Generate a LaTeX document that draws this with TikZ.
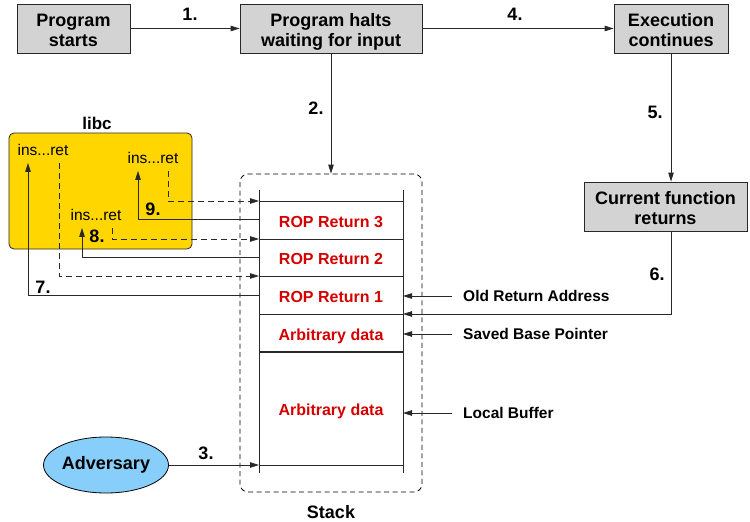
\documentclass[tikz,border=0pt]{standalone}
\usepackage{fontspec}
\setmainfont{Liberation Sans}
\usetikzlibrary{arrows.meta,shapes.geometric}
\definecolor{boxgray}{RGB}{211,211,211}
\definecolor{ropred}{RGB}{212,0,0}
\definecolor{libcgold}{RGB}{255,214,0}
\definecolor{advblue}{RGB}{135,206,250}
\definecolor{linecol}{RGB}{40,40,40}
\newcommand{\twolines}[2]{\raisebox{-8.5pt}[0pt][0pt]{\begin{tabular}{@{}c@{}}#1\\#2\end{tabular}}}
\begin{document}
\begin{tikzpicture}[x=1pt,y=-1pt,
  box/.style={draw=linecol, fill=boxgray, line width=0.8pt, inner sep=0pt, align=center,
    font=\fontsize{18}{20}\selectfont\bfseries},
  lbl/.style={font=\fontsize{18}{20}\selectfont\bfseries},
  ropl/.style={text=ropred, font=\fontsize{16}{18}\selectfont\bfseries},
  side/.style={anchor=west, inner xsep=11pt, inner ysep=0pt, font=\fontsize{15.5}{18}\selectfont\bfseries},
  gadget/.style={inner xsep=0pt, inner ysep=7pt, font=\fontsize{15.5}{18}\selectfont},
  arr/.style={-{Triangle[length=9pt,width=5.5pt]}, line width=0.8pt, draw=linecol},
  darr/.style={arr, dash pattern=on 6pt off 4pt},
  stk/.style={line width=0.9pt, draw=linecol}
]
\useasboundingbox (0,0) rectangle (750,522);

% top flow
\node[box, minimum width=113pt, minimum height=49pt] (start) at (73.5,28.5) {\twolines{Program}{starts}};
\node[box, minimum width=182pt, minimum height=49pt] (halts) at (331,28.5) {\twolines{Program halts}{waiting for input}};
\node[box, minimum width=114pt, minimum height=49pt] (exec) at (671,28.5) {\twolines{Execution}{continues}};
\node[box, minimum width=163pt, minimum height=49pt] (cur) at (665.5,206.5) {\twolines{Current function}{returns}};

% stack
\node[draw=black, line width=0.8pt, dash pattern=on 5pt off 3.5pt, rounded corners=8pt,
  minimum width=182pt, minimum height=318pt, inner sep=0pt] (stackbox) at (331,333) {};
\node[lbl] (stacklbl) at (331,512) {Stack};

\draw[stk] (259,190) -- (259,473);
\draw[stk] (403,190) -- (403,473);
\foreach \yy in {201,239,276,314,465} \draw[stk] (259,\yy) -- (403,\yy);
\draw[stk, line width=1.2pt] (259,352) -- (403,352);

\node[ropl] (rop3) at (331,222) {ROP Return 3};
\node[ropl] (rop2) at (331,259) {ROP Return 2};
\node[ropl] (rop1) at (331,297) {ROP Return 1};
\node[ropl] (arb1) at (331,336) {Arbitrary data};
\node[ropl] (arb2) at (331,411) {Arbitrary data};

\coordinate (sr) at (403,0);
\coordinate (s9) at (259,219);
\coordinate (s8) at (259,257);
\coordinate (s7) at (259,295);
\coordinate (d9) at (259,201);
\coordinate (d8) at (259,239);
\coordinate (d7) at (259,276);
\coordinate (a3) at (259,465);
\coordinate (r6) at (403,314);

% right side labels
\node[side] (ora) at (452,296) {Old Return Address};
\node[side] (sbp) at (452,334) {Saved Base Pointer};
\node[side] (lbuf) at (452,413) {Local Buffer};
\draw[arr] (ora.west) -- (ora.west -| sr);
\draw[arr] (sbp.west) -- (sbp.west -| sr);
\draw[arr] (lbuf.west) -- (lbuf.west -| sr);

% libc
\node[draw=linecol, line width=0.8pt, fill=libcgold, rounded corners=5pt,
  minimum width=183pt, minimum height=116pt, inner sep=0pt] (libc) at (100.5,191) {};
\node[font=\fontsize{17}{20}\selectfont\bfseries] (libclbl) at (97,123) {libc};
\node[gadget] (g1) at (43,150) {ins...ret};
\node[gadget] (g2) at (153,158) {ins...ret};
\node[gadget] (g3) at (96,215) {ins...ret};

% adversary
\node[ellipse, draw=black, line width=0.8pt, fill=advblue, minimum width=125pt, minimum height=56pt,
  inner sep=0pt, font=\fontsize{18}{20}\selectfont\bfseries] (adv) at (106,465) {Adversary};

% flow connectors
\draw[arr] (start.east) -- (halts.west);
\draw[arr] (halts.east) -- (exec.west);
\draw[arr] (halts.south) -- (halts.south |- stackbox.north);
\draw[arr] (exec.south) -- (exec.south |- cur.north);
\draw[arr] (exec.south |- cur.south) |- (r6);
\draw[arr] (adv.east) -- (a3);

% ROP chain
\draw[arr] (s7) -| ([xshift=-15pt]g1.south);
\draw[darr] ([xshift=16pt]g1.south) |- (d7);
\draw[arr] (s8) -| ([xshift=-14pt]g3.south);
\draw[darr] ([xshift=16pt]g3.south) |- (d8);
\draw[arr] (s9) -| ([xshift=-15pt]g2.south);
\draw[darr] ([xshift=15pt]g2.south) |- (d9);

% step labels
\node[lbl] (n1) at (190,14) {1.};
\node[lbl] (n2) at (316,108) {2.};
\node[lbl] (n3) at (206,453) {3.};
\node[lbl] (n4) at (515,14) {4.};
\node[lbl] (n5) at (655,112) {5.};
\node[lbl] (n6) at (657,274) {6.};
\node[lbl] (n7) at (43,287) {7.};
\node[lbl] (n8) at (97,236) {8.};
\node[lbl] (n9) at (153,209) {9.};
\end{tikzpicture}
\end{document}
